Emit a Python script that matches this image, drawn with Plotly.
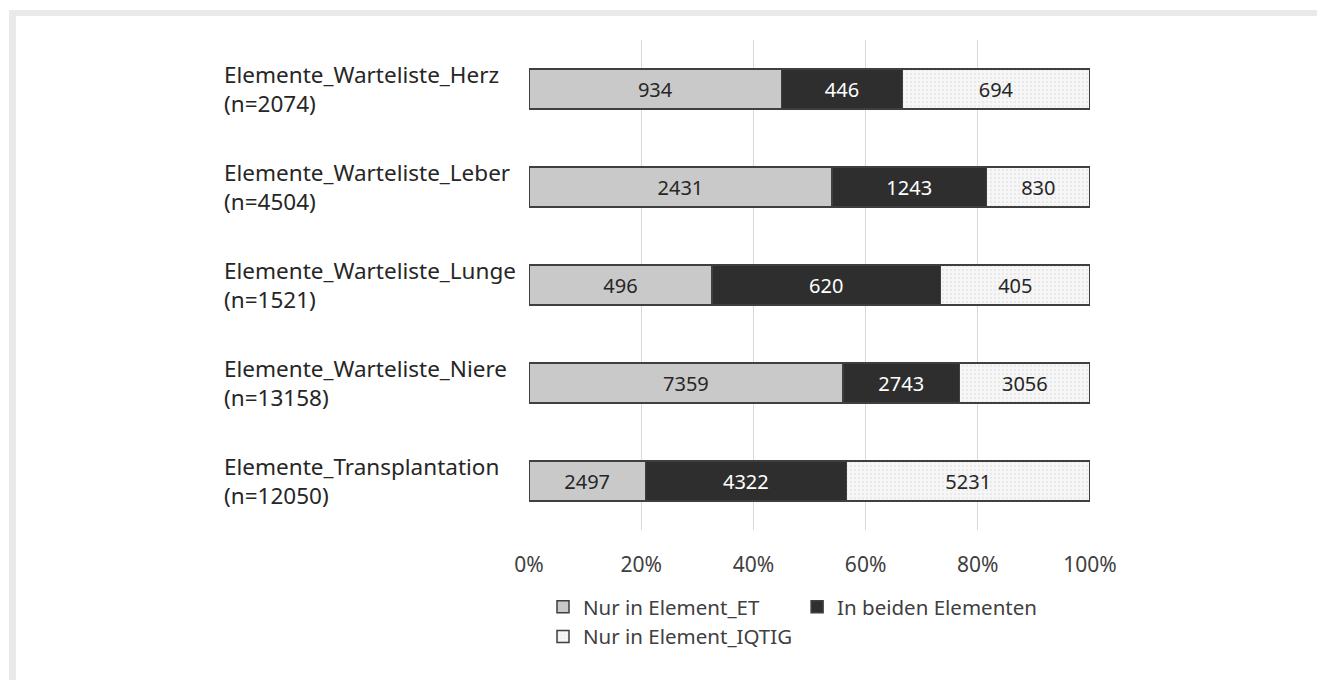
import plotly.graph_objects as go

# Categories (top to bottom) and counts per segment
categories = [
    "Elemente_Warteliste_Herz<br>(n=2074)",
    "Elemente_Warteliste_Leber<br>(n=4504)",
    "Elemente_Warteliste_Lunge<br>(n=1521)",
    "Elemente_Warteliste_Niere<br>(n=13158)",
    "Elemente_Transplantation<br>(n=12050)",
]
nur_et = [934, 2431, 496, 7359, 2497]
beide = [446, 1243, 620, 2743, 4322]
nur_iqtig = [694, 830, 405, 3056, 5231]

series_names = ["Nur in Element_ET", "In beiden Elementen", "Nur in Element_IQTIG"]
tick_vals = [0, 20, 40, 60, 80, 100]
tick_text = ["0%", "20%", "40%", "60%", "80%", "100%"]

W, H = 1317, 680
L, R, T, B = 529, 227, 40, 150
PW, PH = W - L - R, H - T - B


def px_x(px):
    return (px - L) / PW


def px_y(py):
    return (H - B - py) / PH


FONT = "Noto Sans"
edge = dict(color="#3f3f3f", width=1.5)
label_font = dict(color="#262626", size=20, family=FONT)

fig = go.Figure()
fig.add_trace(go.Bar(
    y=categories, x=nur_et, orientation="h", name=series_names[0],
    text=nur_et, textposition="inside", insidetextanchor="middle",
    textfont=label_font,
    marker=dict(color="#c9c9c9", line=edge),
))
fig.add_trace(go.Bar(
    y=categories, x=beide, orientation="h", name=series_names[1],
    text=beide, textposition="inside", insidetextanchor="middle",
    textfont=dict(label_font, color="#ffffff"),
    marker=dict(color="#2e2e2e", line=edge),
))
fig.add_trace(go.Bar(
    y=categories, x=nur_iqtig, orientation="h", name=series_names[2],
    text=nur_iqtig, textposition="inside", insidetextanchor="middle",
    textfont=label_font,
    marker=dict(color="#f3f3f3", line=edge,
                pattern=dict(shape=".", size=4, solidity=0.2,
                             fgcolor="#d6d6d6", bgcolor="#f6f6f6")),
))

# Category labels, left aligned
for cat in categories:
    fig.add_annotation(
        x=px_x(222), xref="paper", y=cat, yref="y",
        text=cat, showarrow=False, xanchor="left", yanchor="middle",
        align="left", font=dict(size=22.5, family=FONT, color="#262626"),
    )

# Light frame along the top and left edges
frame = "#e9e9e9"
fig.add_shape(type="rect", xref="paper", yref="paper", layer="below",
              x0=px_x(9), x1=px_x(W), y0=px_y(10), y1=px_y(16),
              line=dict(width=0), fillcolor=frame)
fig.add_shape(type="rect", xref="paper", yref="paper", layer="below",
              x0=px_x(9), x1=px_x(16), y0=px_y(10), y1=px_y(H),
              line=dict(width=0), fillcolor=frame)

fig.update_layout(
    width=W, height=H,
    margin=dict(l=L, r=R, t=T, b=B, pad=0),
    barmode="stack", barnorm="percent", bargap=0.59,
    paper_bgcolor="white", plot_bgcolor="white",
    font=dict(family=FONT, size=21, color="#404040"),
    uniformtext=dict(mode=False),
    xaxis=dict(
        range=[0, 100], tickvals=tick_vals, ticktext=tick_text,
        showgrid=True, gridcolor="#d9d9d9", gridwidth=1,
        zeroline=False, showline=False, ticks="",
        tickfont=dict(size=21, family=FONT, color="#404040"),
        ticklabelstandoff=20,
    ),
    yaxis=dict(
        autorange="reversed", showticklabels=False, showgrid=False,
        zeroline=False, showline=False, ticks="",
    ),
    legend=dict(
        orientation="h", x=px_x(543), xanchor="left",
        y=px_y(587), yanchor="top",
        font=dict(size=20.5, family=FONT, color="#404040"),
        traceorder="normal", itemwidth=30, tracegroupgap=0,
    ),
    showlegend=True,
)

fig.write_html("out.html")
